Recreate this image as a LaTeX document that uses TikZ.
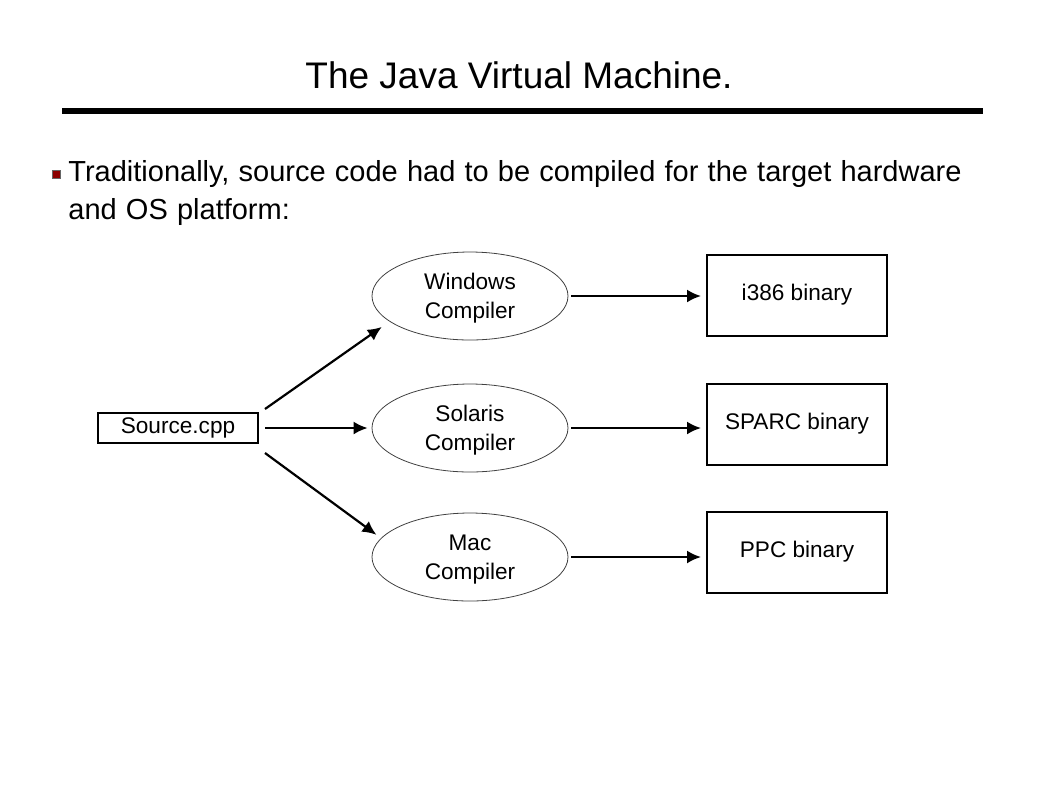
\documentclass[tikz,border=0pt]{standalone}
\usepackage{fontspec}
\setmainfont{Liberation Sans}
\usetikzlibrary{shapes.geometric, arrows.meta}
\newcommand{\widespace}{\spaceskip=4.6pt plus 1pt\relax}
\tikzstyle{comp} = [ellipse, minimum width=98pt, minimum height=44pt, inner sep=0pt, text depth=-10pt, draw=black!75, thin, align=center, font=\fontsize{11.3pt}{14.5pt}\selectfont]
\tikzstyle{binbox} = [rectangle, minimum width=90pt, minimum height=40.5pt, inner sep=0pt, draw=black, line width=1pt, font=\fontsize{11.3pt}{15pt}\selectfont]
\tikzstyle{srcbox} = [rectangle, minimum width=80pt, minimum height=15pt, inner sep=0pt, draw=black, line width=1pt, font=\fontsize{11.3pt}{15pt}\selectfont]
\tikzstyle{arrow} = [line width=1.1pt, -{Latex[length=7pt,width=6.5pt]}]

\begin{document}
\begin{tikzpicture}[x=0.5pt, y=-0.5pt]
		\useasboundingbox (0,0) rectangle (1058,794);
		% title and rule
		\node (title) at (519,75) {\fontsize{18.5pt}{22pt}\selectfont The Java Virtual Machine.};
		\draw [line width=3pt] (62,111) -- (983,111);
		% bullet
		\node (bullet) [rectangle, fill=red!55!black, draw=black!60, line width=0.3pt, minimum size=4pt, inner sep=0pt] at (56,174) {};
		\node (text) [anchor=north west, align=left, inner sep=0pt, font=\fontsize{14.5pt}{19pt}\selectfont\widespace] at (68,160) {Traditionally, source code had to be compiled for the target hardware\\and OS platform:};
		% nodes
		\node (src) [srcbox] at (178,428) {Source.cpp};
		\node (win) [comp] at (470,296) {Windows\\Compiler};
		\node (sol) [comp] at (470,428) {Solaris\\Compiler};
		\node (mac) [comp] at (470,557) {Mac\\Compiler};
		\node (i386) [binbox] at (797,295) {i386 binary};
		\node (sparc) [binbox] at (797,424) {SPARC binary};
		\node (ppc) [binbox] at (797,552) {PPC binary};

		\draw [arrow] ([shift={(6,-3)}]src.north east) -- ([shift={(-10,4)}]win.199);
		\draw [arrow, shorten <=3pt, shorten >=2pt] (src.east) -- (sol.west);
		\draw [arrow] ([shift={(6,9)}]src.south east) -- ([shift={(-6,-2)}]mac.167);
		\draw [arrow, shorten <=1.5pt, shorten >=2.5pt] (win.east) -- (win.east -| i386.west);
		\draw [arrow, shorten <=1.5pt, shorten >=2.5pt] (sol.east) -- (sol.east -| sparc.west);
		\draw [arrow, shorten <=1.5pt, shorten >=2.5pt] (mac.east) -- (mac.east -| ppc.west);
	\end{tikzpicture}
\end{document}
